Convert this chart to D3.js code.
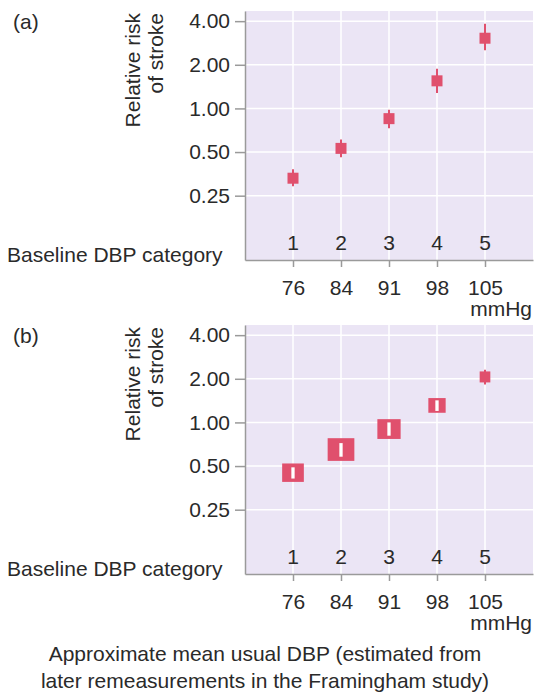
<!DOCTYPE html>
<html>
<head>
<meta charset="utf-8">
<script src="https://d3js.org/d3.v7.min.js"></script>
<style>
  body { margin: 0; background: #fff; }
  svg text { font-family: "Liberation Sans", Arial, Helvetica, sans-serif; font-size: 21px; fill: #2a2a2a; }
  .axis path, .axis line { stroke: #9a9a9a; stroke-width: 1.5; }
</style>
</head>
<body>
<svg id="chart"></svg>
<script>
// categories and their approximate usual DBP (mmHg)
var categories = [1, 2, 3, 4, 5];
var mmHg = [76, 84, 91, 98, 105];
var yTicks = [0.25, 0.5, 1, 2, 4];

// (a) baseline DBP: relative risk with 95% CI
var rrA = [0.33, 0.53, 0.85, 1.55, 3.05];
var loA = [0.29, 0.46, 0.73, 1.28, 2.52];
var hiA = [0.38, 0.61, 0.98, 1.88, 3.84];

// (b) usual DBP: relative risk, CI and relative weight (box size)
var rrB = [0.45, 0.65, 0.90, 1.31, 2.06];
var loB = [0.41, 0.58, 0.81, 1.20, 1.83];
var hiB = [0.49, 0.72, 1.00, 1.42, 2.31];
var weightB = [66, 100, 76, 42, 16];

var width = 535, height = 697;
var red = "#e0506d";
var bg = "#ebe5f5";

var svg = d3.select("#chart").attr("width", width).attr("height", height);

var x = d3.scaleLinear().domain([0, 6]).range([245, 533]);
var y = d3.scaleLog().domain([0.09, 4.7]).range([260, 11]);
var boxSize = d3.scaleSqrt().domain([0, 100]).range([0, 26.7]);

function drawPanel(offset, label, rr, lo, hi, weights) {
  var g = svg.append("g").attr("transform", "translate(0," + offset + ")");

  // plot background + grid
  g.append("rect")
    .attr("x", x(0)).attr("y", y(4.7))
    .attr("width", x(6) - x(0)).attr("height", y(0.09) - y(4.7))
    .attr("fill", bg);

  g.selectAll(".hgrid").data(yTicks).enter().append("line")
    .attr("x1", x(0)).attr("x2", x(6))
    .attr("y1", function (d) { return y(d); }).attr("y2", function (d) { return y(d); })
    .attr("stroke", "#fff").attr("stroke-width", 1.5);

  g.selectAll(".vgrid").data(categories).enter().append("line")
    .attr("x1", function (d) { return x(d); }).attr("x2", function (d) { return x(d); })
    .attr("y1", y(4.7)).attr("y2", y(0.09))
    .attr("stroke", "#fff").attr("stroke-width", 1.5);

  // axes
  g.append("g").attr("class", "axis")
    .attr("transform", "translate(" + x(0) + ",0)")
    .call(d3.axisLeft(y).tickValues(yTicks).tickFormat(d3.format(".2f"))
      .tickSize(10).tickSizeOuter(0).tickPadding(5));

  g.append("g").attr("class", "axis")
    .attr("transform", "translate(0," + y(0.09) + ")")
    .call(d3.axisBottom(x).tickValues(categories)
      .tickFormat(function (d, i) { return mmHg[i]; })
      .tickSize(7).tickSizeOuter(0).tickPadding(13));

  // category numbers inside the plot
  g.selectAll(".cat").data(categories).enter().append("text")
    .attr("x", function (d) { return x(d); })
    .attr("y", y(0.09) - 10)
    .attr("text-anchor", "middle")
    .text(function (d) { return d; });

  g.append("text").attr("x", 7).attr("y", y(0.09) + 2).text("Baseline DBP category");
  g.append("text").attr("x", 532).attr("y", y(0.09) + 56).attr("text-anchor", "end").text("mmHg");
  g.append("text").attr("x", 13).attr("y", 29).text(label);

  var yl = g.append("g").attr("transform", "translate(140,13) rotate(-90)");
  yl.append("text").attr("text-anchor", "end").text("Relative risk");
  yl.append("text").attr("text-anchor", "end").attr("y", 23).text("of stroke");

  var pts = categories.map(function (c, i) {
    var w = weights ? boxSize(weights[i]) : 11;
    var h = weights ? Math.max(11, w * 0.85) : 11;
    return { c: c, rr: rr[i], lo: lo[i], hi: hi[i], w: w, h: h };
  });

  var m = g.selectAll(".pt").data(pts).enter().append("g");

  // whiskers outside the box (pink)
  m.filter(function (d) { return !weights || (y(d.lo) - y(d.hi)) > d.h - 2; })
    .append("line")
    .attr("x1", function (d) { return x(d.c); }).attr("x2", function (d) { return x(d.c); })
    .attr("y1", function (d) { return y(d.lo); }).attr("y2", function (d) { return y(d.hi); })
    .attr("stroke", red).attr("stroke-width", 2);

  m.append("rect")
    .attr("x", function (d) { return x(d.c) - d.w / 2; })
    .attr("y", function (d) { return y(d.rr) - d.h / 2; })
    .attr("width", function (d) { return d.w; })
    .attr("height", function (d) { return d.h; })
    .attr("fill", red);

  // CI inside the box (white)
  if (weights) {
    m.filter(function (d) { return (y(d.lo) - y(d.hi)) <= d.h - 2; })
      .append("line")
      .attr("x1", function (d) { return x(d.c); }).attr("x2", function (d) { return x(d.c); })
      .attr("y1", function (d) { return y(d.lo); }).attr("y2", function (d) { return y(d.hi); })
      .attr("stroke", "#fff").attr("stroke-width", 3.3);
  }
}

drawPanel(0, "(a)", rrA, loA, hiA, null);
drawPanel(314, "(b)", rrB, loB, hiB, weightB);

svg.append("text").attr("x", 265).attr("y", 661).attr("text-anchor", "middle")
  .text("Approximate mean usual DBP (estimated from");
svg.append("text").attr("x", 265).attr("y", 688).attr("text-anchor", "middle")
  .text("later remeasurements in the Framingham study)");
</script>
</body>
</html>
